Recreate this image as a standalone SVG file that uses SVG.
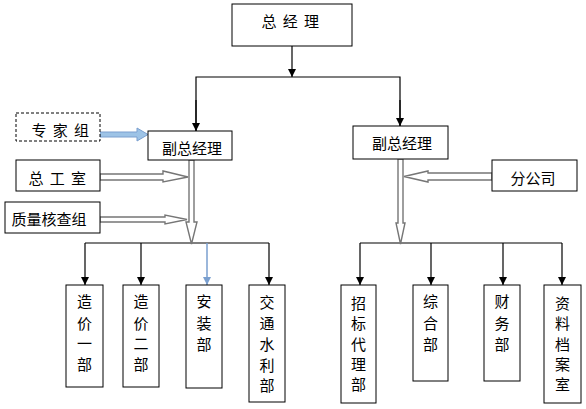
<svg xmlns="http://www.w3.org/2000/svg" width="586" height="409" viewBox="0 0 586 409">
<defs>
<marker id="ahb" markerWidth="10" markerHeight="10" refX="8" refY="5" orient="auto" markerUnits="userSpaceOnUse" viewBox="0 0 10 10">
<path d="M0,1 L8,5 L0,9 Z" fill="#7a9fcf"/>
</marker>
<marker id="ahk" markerWidth="10" markerHeight="10" refX="8" refY="5" orient="auto" markerUnits="userSpaceOnUse" viewBox="0 0 10 10">
<path d="M0,1 L8,5 L0,9 Z" fill="#000"/>
</marker>
<style>
.box{fill:#fff;stroke:#000;stroke-width:1}
.dash{fill:#fff;stroke:#000;stroke-width:1;stroke-dasharray:3,2}
.t{font-family:"Noto Sans CJK SC","Noto Sans",sans-serif;font-size:15px;fill:#000;text-anchor:middle;dominant-baseline:central}
.ln{stroke:#000;stroke-width:1.2;fill:none}
.hollow{fill:#fff;stroke:#767676;stroke-width:1.4}
</style>
</defs>
<rect width="586" height="409" fill="#fff"/>

<g id="connectors">
<line class="ln" x1="292" y1="46" x2="292" y2="77" marker-end="url(#ahk)"/>
<polyline class="ln" points="196,131 196,77 400,77 400,126"/>
<line class="ln" x1="196" y1="100" x2="196" y2="131" marker-end="url(#ahk)"/>
<line class="ln" x1="400" y1="100" x2="400" y2="126" marker-end="url(#ahk)"/>
<line class="ln" x1="85" y1="243" x2="269" y2="243"/>
<line class="ln" x1="85" y1="243" x2="85" y2="285" marker-end="url(#ahk)"/>
<line class="ln" x1="141" y1="243" x2="141" y2="285" marker-end="url(#ahk)"/>
<line x1="207" y1="243" x2="207" y2="285" stroke="#7a9fcf" stroke-width="1.5" marker-end="url(#ahb)"/>
<line class="ln" x1="269" y1="243" x2="269" y2="285" marker-end="url(#ahk)"/>
<line class="ln" x1="360" y1="243" x2="562" y2="243"/>
<line class="ln" x1="360" y1="243" x2="360" y2="285" marker-end="url(#ahk)"/>
<line class="ln" x1="431" y1="243" x2="431" y2="285" marker-end="url(#ahk)"/>
<line class="ln" x1="503" y1="243" x2="503" y2="285" marker-end="url(#ahk)"/>
<line class="ln" x1="562" y1="243" x2="562" y2="285" marker-end="url(#ahk)"/>
<path d="M100,132 L137,132 L137,128 L148,134.5 L137,141 L137,137 L100,137 Z" fill="#9dc3e6" stroke="#7a9fcf" stroke-width="1"/>
<path class="hollow" d="M100,174 L163,174 L163,171 L188,177 L163,182 L163,180 L100,180 Z"/>
<path class="hollow" d="M100,217 L165,217 L165,215 L187,219.5 L165,224 L165,222 L100,222 Z"/>
<path class="hollow" d="M189,160 L189,222 L186,222 L191.5,244 L197,222 L194,222 L194,160 Z"/>
<path class="hollow" d="M398,159 L398,223 L396,223 L400.5,244 L405,223 L403,223 L403,159 Z"/>
<path class="hollow" d="M492,173 L428,173 L428,171 L404,176.5 L428,182 L428,180 L492,180 Z"/>
</g>

<g id="n-zjl"><rect class="box" x="232" y="4" width="120" height="42"/><text class="t" x="291" y="20" letter-spacing="1.5">总 经 理</text></g>
<g id="n-fzjl1"><rect class="box" x="148" y="131" width="84" height="29"/><text class="t" x="192" y="147">副总经理</text></g>
<g id="n-fzjl2"><rect class="box" x="353" y="126" width="95" height="33"/><text class="t" x="402" y="142">副总经理</text></g>
<g id="n-zjz"><rect class="dash" x="16" y="113" width="84" height="28"/><text class="t" x="61" y="129" letter-spacing="1.5">专 家 组</text></g>
<g id="n-zgs"><rect class="box" x="16" y="160" width="84" height="31"/><text class="t" x="58" y="177" letter-spacing="1.5">总 工 室</text></g>
<g id="n-zlhcz"><rect class="box" x="5" y="202" width="95" height="31"/><text class="t" x="49" y="218">质量核查组</text></g>
<g id="n-fgs"><rect class="box" x="492" y="160" width="85" height="31"/><text class="t" x="533" y="177">分公司</text></g>

<g id="n-zj1"><rect class="box" x="66" y="285" width="37" height="102"/>
<text class="t" x="84.5" y="300">造</text><text class="t" x="84.5" y="322">价</text><text class="t" x="84.5" y="342">一</text><text class="t" x="84.5" y="363">部</text></g>
<g id="n-zj2"><rect class="box" x="123" y="285" width="36" height="102"/>
<text class="t" x="141" y="300">造</text><text class="t" x="141" y="322">价</text><text class="t" x="141" y="342">二</text><text class="t" x="141" y="363">部</text></g>
<g id="n-az"><rect class="box" x="186" y="285" width="36" height="103"/>
<text class="t" x="204" y="300">安</text><text class="t" x="204" y="322">装</text><text class="t" x="204" y="343">部</text></g>
<g id="n-jtsl"><rect class="box" x="249" y="285" width="36" height="117"/>
<text class="t" x="267" y="301">交</text><text class="t" x="267" y="322">通</text><text class="t" x="267" y="343">水</text><text class="t" x="267" y="364">利</text><text class="t" x="267" y="384">部</text></g>

<g id="n-zbdl"><rect class="box" x="341" y="285" width="35" height="118"/>
<text class="t" x="358.5" y="302">招</text><text class="t" x="358.5" y="322">标</text><text class="t" x="358.5" y="343">代</text><text class="t" x="358.5" y="363">理</text><text class="t" x="358.5" y="383">部</text></g>
<g id="n-zh"><rect class="box" x="413" y="285" width="35" height="96"/>
<text class="t" x="430.5" y="300">综</text><text class="t" x="430.5" y="322">合</text><text class="t" x="430.5" y="343">部</text></g>
<g id="n-cw"><rect class="box" x="484" y="285" width="36" height="96"/>
<text class="t" x="502" y="300">财</text><text class="t" x="502" y="322">务</text><text class="t" x="502" y="343">部</text></g>
<g id="n-zlda"><rect class="box" x="544" y="285" width="37" height="118"/>
<text class="t" x="562.5" y="302">资</text><text class="t" x="562.5" y="322">料</text><text class="t" x="562.5" y="343">档</text><text class="t" x="562.5" y="363">案</text><text class="t" x="562.5" y="383">室</text></g>
</svg>
